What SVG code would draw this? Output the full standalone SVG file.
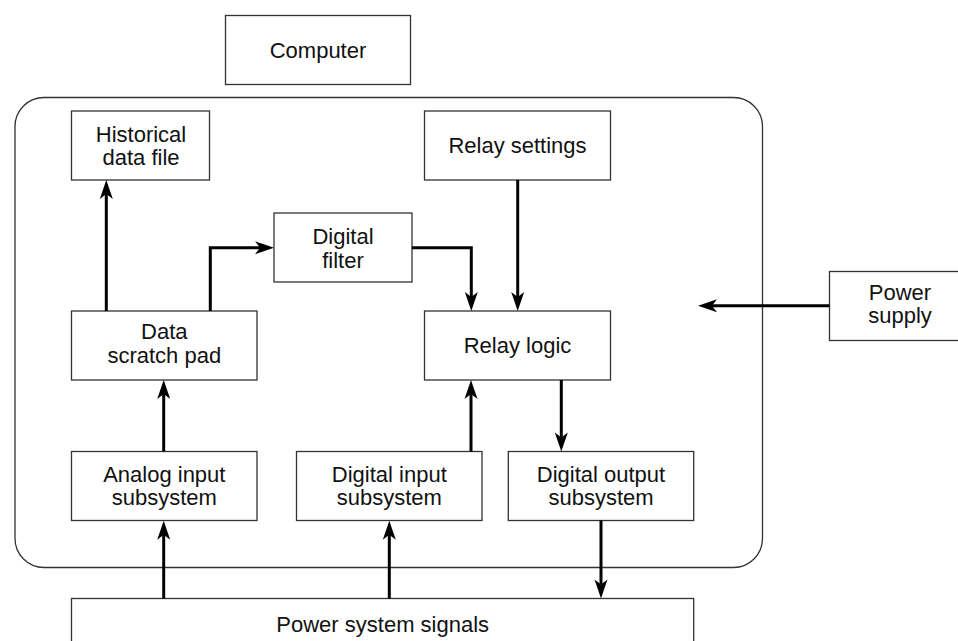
<svg xmlns="http://www.w3.org/2000/svg" width="958" height="641" viewBox="0 0 958 641">
<style>
.box{fill:#fff;stroke:#333;stroke-width:1.3}
.outer{fill:none;stroke:#333;stroke-width:1.3}
.t{font-family:"Liberation Sans",Arial,sans-serif;font-size:22px;fill:#111;text-anchor:middle}
.c{fill:none;stroke:#000;stroke-width:3}
</style>
<defs>
<marker id="ah" markerUnits="userSpaceOnUse" markerWidth="24" markerHeight="16" viewBox="-20 -8 24 16" refX="-14" refY="0" orient="auto">
<path d="M0,0 L-19,-6.5 L-14,0 L-19,6.5 Z" fill="#000"/>
</marker>
</defs>
<rect class="outer" x="15" y="97.5" width="747.5" height="470" rx="29" ry="29"/>
<g id="computer"><rect class="box" x="225.5" y="15.5" width="185" height="69"/><text class="t" x="318" y="57.5">Computer</text></g>
<g id="historical"><rect class="box" x="71.5" y="111" width="138" height="69"/><text class="t" x="141" y="141.7">Historical</text><text class="t" x="141" y="165">data file</text></g>
<g id="relay-settings"><rect class="box" x="424.5" y="111" width="186" height="69"/><text class="t" x="517.5" y="153">Relay settings</text></g>
<g id="digital-filter"><rect class="box" x="274" y="213" width="138" height="69"/><text class="t" x="343" y="244.3">Digital</text><text class="t" x="343" y="267.7">filter</text></g>
<g id="scratch-pad"><rect class="box" x="71.5" y="311" width="185.5" height="69"/><text class="t" x="164.3" y="339">Data</text><text class="t" x="164.3" y="362.7">scratch pad</text></g>
<g id="relay-logic"><rect class="box" x="424.5" y="311" width="186" height="69"/><text class="t" x="517.5" y="352.5">Relay logic</text></g>
<g id="analog-input"><rect class="box" x="71.5" y="451.5" width="185.5" height="69"/><text class="t" x="164.3" y="481.7">Analog input</text><text class="t" x="164.3" y="505">subsystem</text></g>
<g id="digital-input"><rect class="box" x="296.5" y="451.5" width="185.5" height="69"/><text class="t" x="389.3" y="481.7">Digital input</text><text class="t" x="389.3" y="505">subsystem</text></g>
<g id="digital-output"><rect class="box" x="508.3" y="451.5" width="185.4" height="69"/><text class="t" x="601" y="481.7">Digital output</text><text class="t" x="601" y="505">subsystem</text></g>
<g id="power-signals"><rect class="box" x="71.5" y="598.5" width="622.2" height="60"/><text class="t" x="382.7" y="631.7">Power system signals</text></g>
<g id="power-supply"><rect class="box" x="829.5" y="271.5" width="141" height="69"/><text class="t" x="900" y="300">Power</text><text class="t" x="900" y="323.3">supply</text></g>
<g id="connectors">
<path class="c" d="M106.3,311 V194" marker-end="url(#ah)"/>
<path class="c" d="M210.3,311 V247.7 H260" marker-end="url(#ah)"/>
<path class="c" d="M412,247.7 H471.3 V297" marker-end="url(#ah)"/>
<path class="c" d="M517.7,180 V297" marker-end="url(#ah)"/>
<path class="c" d="M829.5,305.7 H712" marker-end="url(#ah)"/>
<path class="c" d="M561.3,380 V437.5" marker-end="url(#ah)"/>
<path class="c" d="M163.7,451.5 V394" marker-end="url(#ah)"/>
<path class="c" d="M471,451.5 V394" marker-end="url(#ah)"/>
<path class="c" d="M163.7,598.5 V534.7" marker-end="url(#ah)"/>
<path class="c" d="M389.3,598.5 V534.7" marker-end="url(#ah)"/>
<path class="c" d="M601,520.5 V584.5" marker-end="url(#ah)"/>
</g>
</svg>
